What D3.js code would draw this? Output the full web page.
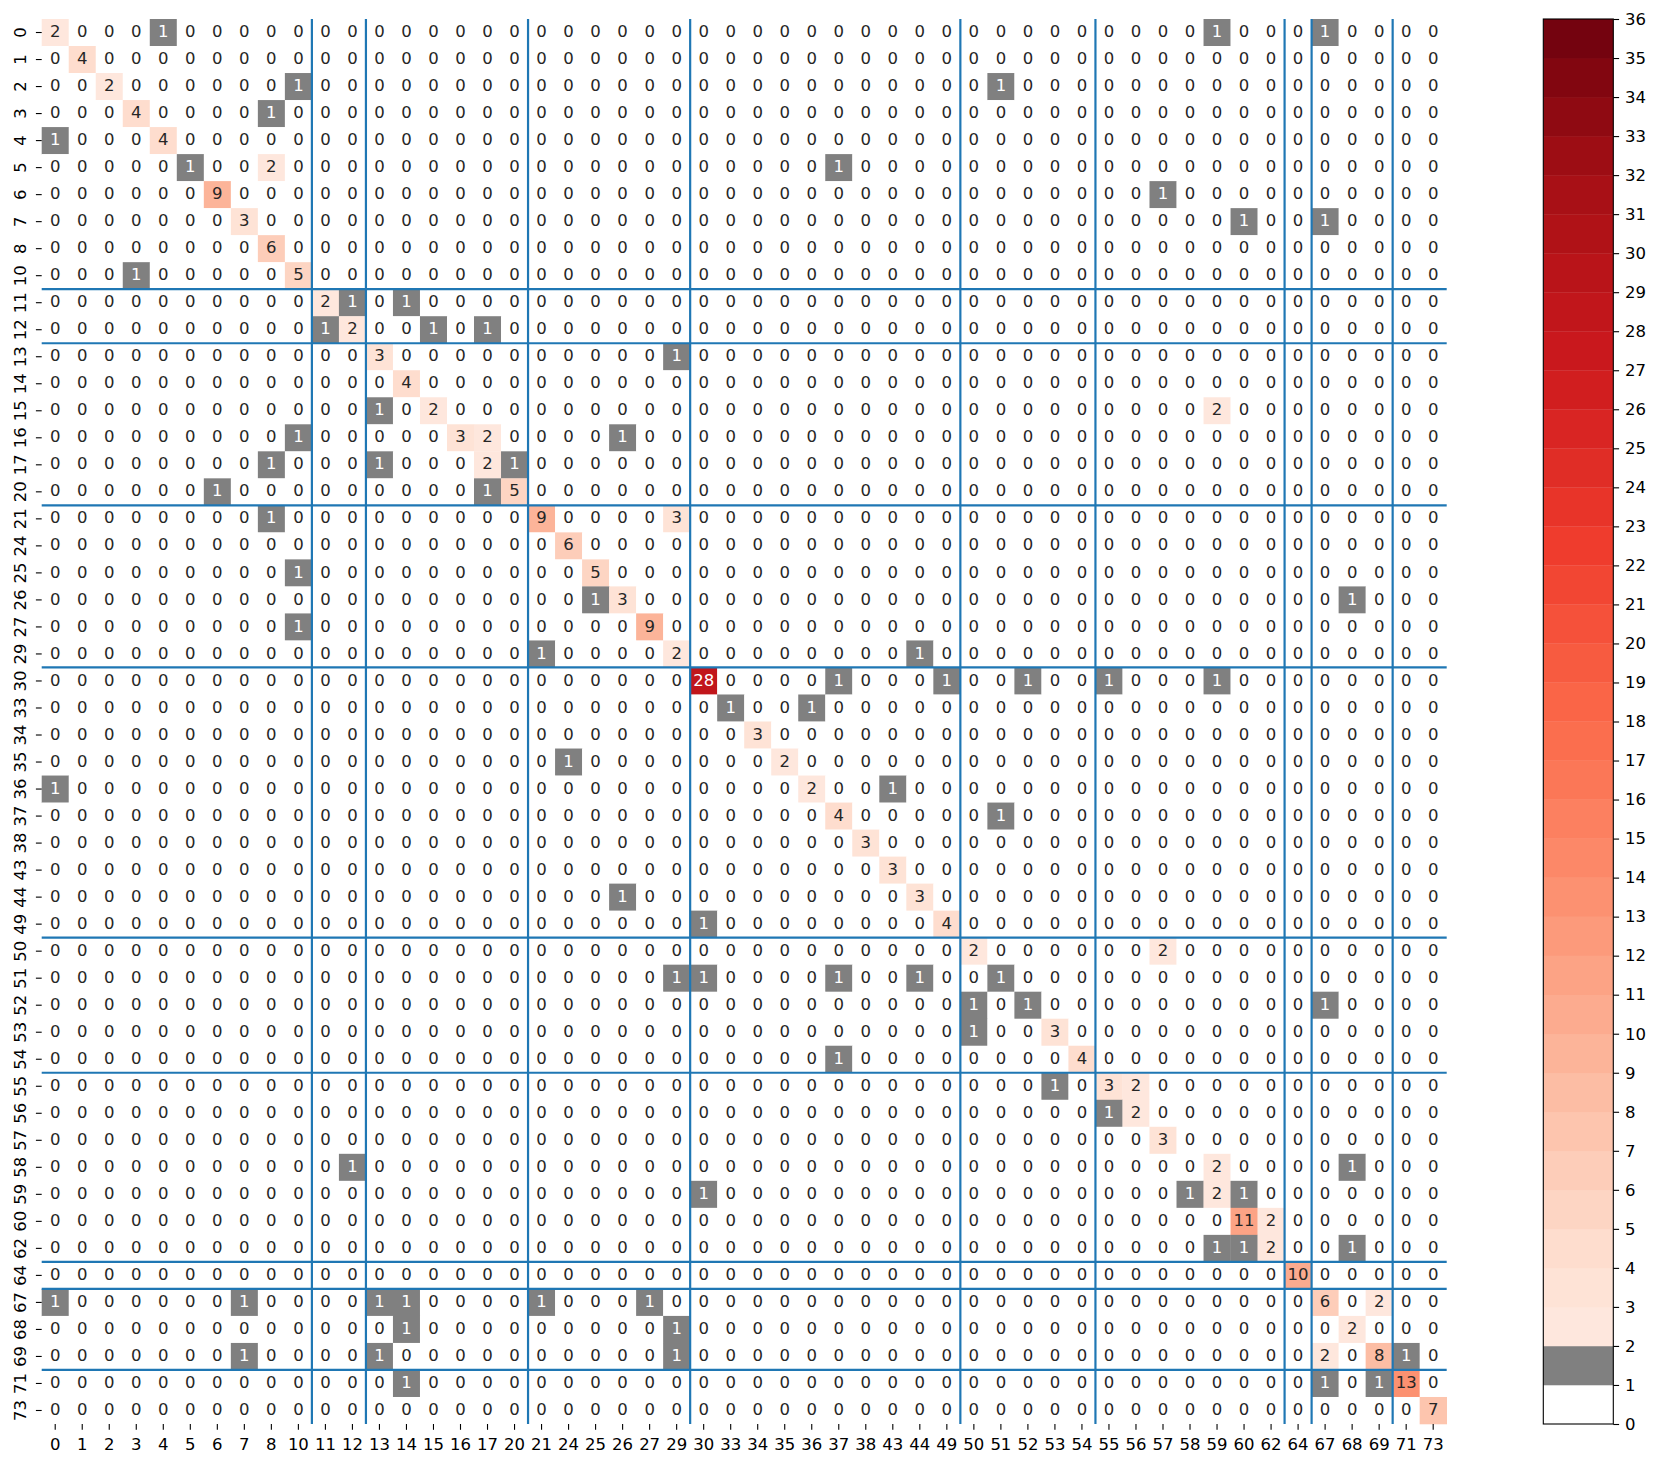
<!DOCTYPE html>
<html>
<head>
<meta charset="utf-8">
<script src="https://cdn.jsdelivr.net/npm/d3@7"></script>
<style>
  body { margin: 0; background: #fff; }
  text { font-family: "DejaVu Sans", sans-serif; }
</style>
</head>
<body>
<script>
// class labels, same order on both axes
const labels = [0, 1, 2, 3, 4, 5, 6, 7, 8, 10, 11, 12, 13, 14, 15, 16, 17, 20, 21, 24, 25, 26, 27, 29,
  30, 33, 34, 35, 36, 37, 38, 43, 44, 49, 50, 51, 52, 53, 54, 55, 56, 57, 58, 59, 60, 62, 64, 67, 68, 69, 71, 73];

// last label of each group (blue separators)
const groupEnds = [10, 12, 20, 29, 49, 54, 62, 64, 69];

// non-zero cells: [row label, column label, count]
const counts = [
  [0, 0, 2], [0, 4, 1], [0, 59, 1], [0, 67, 1],
  [1, 1, 4],
  [2, 2, 2], [2, 10, 1], [2, 51, 1],
  [3, 3, 4], [3, 8, 1],
  [4, 0, 1], [4, 4, 4],
  [5, 5, 1], [5, 8, 2], [5, 37, 1],
  [6, 6, 9], [6, 57, 1],
  [7, 7, 3], [7, 60, 1], [7, 67, 1],
  [8, 8, 6],
  [10, 3, 1], [10, 10, 5],
  [11, 11, 2], [11, 12, 1], [11, 14, 1],
  [12, 11, 1], [12, 12, 2], [12, 15, 1], [12, 17, 1],
  [13, 13, 3], [13, 29, 1],
  [14, 14, 4],
  [15, 13, 1], [15, 15, 2], [15, 59, 2],
  [16, 10, 1], [16, 16, 3], [16, 17, 2], [16, 26, 1],
  [17, 8, 1], [17, 13, 1], [17, 17, 2], [17, 20, 1],
  [20, 6, 1], [20, 17, 1], [20, 20, 5],
  [21, 8, 1], [21, 21, 9], [21, 29, 3],
  [24, 24, 6],
  [25, 10, 1], [25, 25, 5],
  [26, 25, 1], [26, 26, 3], [26, 68, 1],
  [27, 10, 1], [27, 27, 9],
  [29, 21, 1], [29, 29, 2], [29, 44, 1],
  [30, 30, 28], [30, 37, 1], [30, 49, 1], [30, 52, 1], [30, 55, 1], [30, 59, 1],
  [33, 33, 1], [33, 36, 1],
  [34, 34, 3],
  [35, 24, 1], [35, 35, 2],
  [36, 0, 1], [36, 36, 2], [36, 43, 1],
  [37, 37, 4], [37, 51, 1],
  [38, 38, 3],
  [43, 43, 3],
  [44, 26, 1], [44, 44, 3],
  [49, 30, 1], [49, 49, 4],
  [50, 50, 2], [50, 57, 2],
  [51, 29, 1], [51, 30, 1], [51, 37, 1], [51, 44, 1], [51, 51, 1],
  [52, 50, 1], [52, 52, 1], [52, 67, 1],
  [53, 50, 1], [53, 53, 3],
  [54, 37, 1], [54, 54, 4],
  [55, 53, 1], [55, 55, 3], [55, 56, 2],
  [56, 55, 1], [56, 56, 2],
  [57, 57, 3],
  [58, 12, 1], [58, 59, 2], [58, 68, 1],
  [59, 30, 1], [59, 58, 1], [59, 59, 2], [59, 60, 1],
  [60, 60, 11], [60, 62, 2],
  [62, 59, 1], [62, 60, 1], [62, 62, 2], [62, 68, 1],
  [64, 64, 10],
  [67, 0, 1], [67, 7, 1], [67, 13, 1], [67, 14, 1], [67, 21, 1], [67, 27, 1], [67, 67, 6], [67, 69, 2],
  [68, 14, 1], [68, 29, 1], [68, 68, 2],
  [69, 7, 1], [69, 13, 1], [69, 29, 1], [69, 67, 2], [69, 69, 8], [69, 71, 1],
  [71, 14, 1], [71, 67, 1], [71, 69, 1], [71, 71, 13],
  [73, 73, 7]
];

const colorbarTicks = d3.range(0, 37);

const width = 1660;
const height = 1466;
const plotLeft = 41.7;
const plotTop = 19;
const size = 1405;
const fontSize = 16.5;

const svg = d3.select("body").append("svg")
  .attr("width", width)
  .attr("height", height);

const x = d3.scaleBand().domain(labels).range([plotLeft, plotLeft + size]);
const y = d3.scaleBand().domain(labels).range([plotTop, plotTop + size]);

// matplotlib "Reds", linear between the 9 brewer stops
const redStops = ["#fff5f0", "#fee0d2", "#fcbba1", "#fc9272", "#fb6a4a", "#ef3b2c", "#cb181d", "#a50f15", "#67000d"];
const reds = d3.scaleLinear()
  .domain(d3.range(9).map(i => i / 8))
  .range(redStops)
  .interpolate(d3.interpolateRgb);

// 36 discrete colours: 0 white, 1 grey, the rest from Reds
const palette = d3.range(36).map(i => i === 0 ? "#ffffff" : i === 1 ? "#808080" : reds((i + 1) / 37));
const color = v => palette[Math.max(0, Math.min(35, Math.floor(v)))];

function luminance(c) {
  const rgb = d3.rgb(c);
  const f = v => {
    v /= 255;
    return v <= 0.03928 ? v / 12.92 : Math.pow((v + 0.055) / 1.055, 2.4);
  };
  return 0.2126 * f(rgb.r) + 0.7152 * f(rgb.g) + 0.0722 * f(rgb.b);
}

// full grid
const lookup = new Map(counts.map(([r, c, v]) => [r + "_" + c, v]));
const cells = [];
labels.forEach(r => labels.forEach(c => {
  cells.push({ r, c, v: lookup.get(r + "_" + c) || 0 });
}));

const cell = svg.append("g").selectAll("g")
  .data(cells)
  .join("g");

cell.append("rect")
  .attr("x", d => x(d.c))
  .attr("y", d => y(d.r))
  .attr("width", x.bandwidth() + 0.3)
  .attr("height", y.bandwidth() + 0.3)
  .attr("fill", d => color(d.v));

cell.append("text")
  .attr("x", d => x(d.c) + x.bandwidth() / 2)
  .attr("y", d => y(d.r) + y.bandwidth() / 2)
  .attr("dy", "0.28em")
  .attr("text-anchor", "middle")
  .attr("font-size", fontSize)
  .attr("fill", d => luminance(color(d.v)) > 0.408 ? "#262626" : "#ffffff")
  .text(d => d.v);

// group separators
const sep = svg.append("g")
  .attr("stroke", "#1f77b4")
  .attr("stroke-width", 2.2);

groupEnds.forEach(lab => {
  const px = x(lab) + x.bandwidth();
  const py = y(lab) + y.bandwidth();
  sep.append("line").attr("x1", px).attr("x2", px).attr("y1", plotTop).attr("y2", plotTop + size);
  sep.append("line").attr("x1", plotLeft).attr("x2", plotLeft + size).attr("y1", py).attr("y2", py);
});

// x axis
const xAxis = svg.append("g");
labels.forEach(lab => {
  const cx = x(lab) + x.bandwidth() / 2;
  xAxis.append("line")
    .attr("x1", cx).attr("x2", cx)
    .attr("y1", plotTop + size).attr("y2", plotTop + size + 5.8)
    .attr("stroke", "#000").attr("stroke-width", 1.1);
  xAxis.append("text")
    .attr("x", cx)
    .attr("y", 1449.5)
    .attr("text-anchor", "middle")
    .attr("font-size", fontSize)
    .attr("fill", "#000")
    .text(lab);
});

// y axis, labels rotated
const yAxis = svg.append("g");
labels.forEach(lab => {
  const cy = y(lab) + y.bandwidth() / 2;
  yAxis.append("line")
    .attr("x1", plotLeft - 5.8).attr("x2", plotLeft)
    .attr("y1", cy).attr("y2", cy)
    .attr("stroke", "#000").attr("stroke-width", 1.1);
  yAxis.append("text")
    .attr("transform", `translate(26,${cy}) rotate(-90)`)
    .attr("text-anchor", "middle")
    .attr("font-size", fontSize)
    .attr("fill", "#000")
    .text(lab);
});

// colorbar
const cbLeft = 1543.3;
const cbWidth = 70;
const cb = d3.scaleLinear().domain([0, 36]).range([plotTop + size, plotTop]);
const cbar = svg.append("g");

cbar.selectAll("rect.band")
  .data(d3.range(36))
  .join("rect")
  .attr("class", "band")
  .attr("x", cbLeft)
  .attr("y", d => cb(d + 1))
  .attr("width", cbWidth)
  .attr("height", d => cb(d) - cb(d + 1) + 0.3)
  .attr("fill", d => palette[d]);

cbar.append("rect")
  .attr("x", cbLeft)
  .attr("y", plotTop)
  .attr("width", cbWidth)
  .attr("height", size)
  .attr("fill", "none")
  .attr("stroke", "#000")
  .attr("stroke-width", 1.1);

const cbAxis = d3.axisRight(cb)
  .tickValues(colorbarTicks)
  .tickFormat(d3.format("d"))
  .tickSize(5.8)
  .tickPadding(6);

cbar.append("g")
  .attr("transform", `translate(${cbLeft + cbWidth},0)`)
  .call(cbAxis)
  .call(g => g.select(".domain").remove())
  .call(g => g.selectAll("line").attr("stroke", "#000").attr("stroke-width", 1.1))
  .call(g => g.selectAll("text")
    .attr("font-size", fontSize)
    .attr("font-family", "DejaVu Sans, sans-serif")
    .attr("fill", "#000"));
</script>
</body>
</html>
